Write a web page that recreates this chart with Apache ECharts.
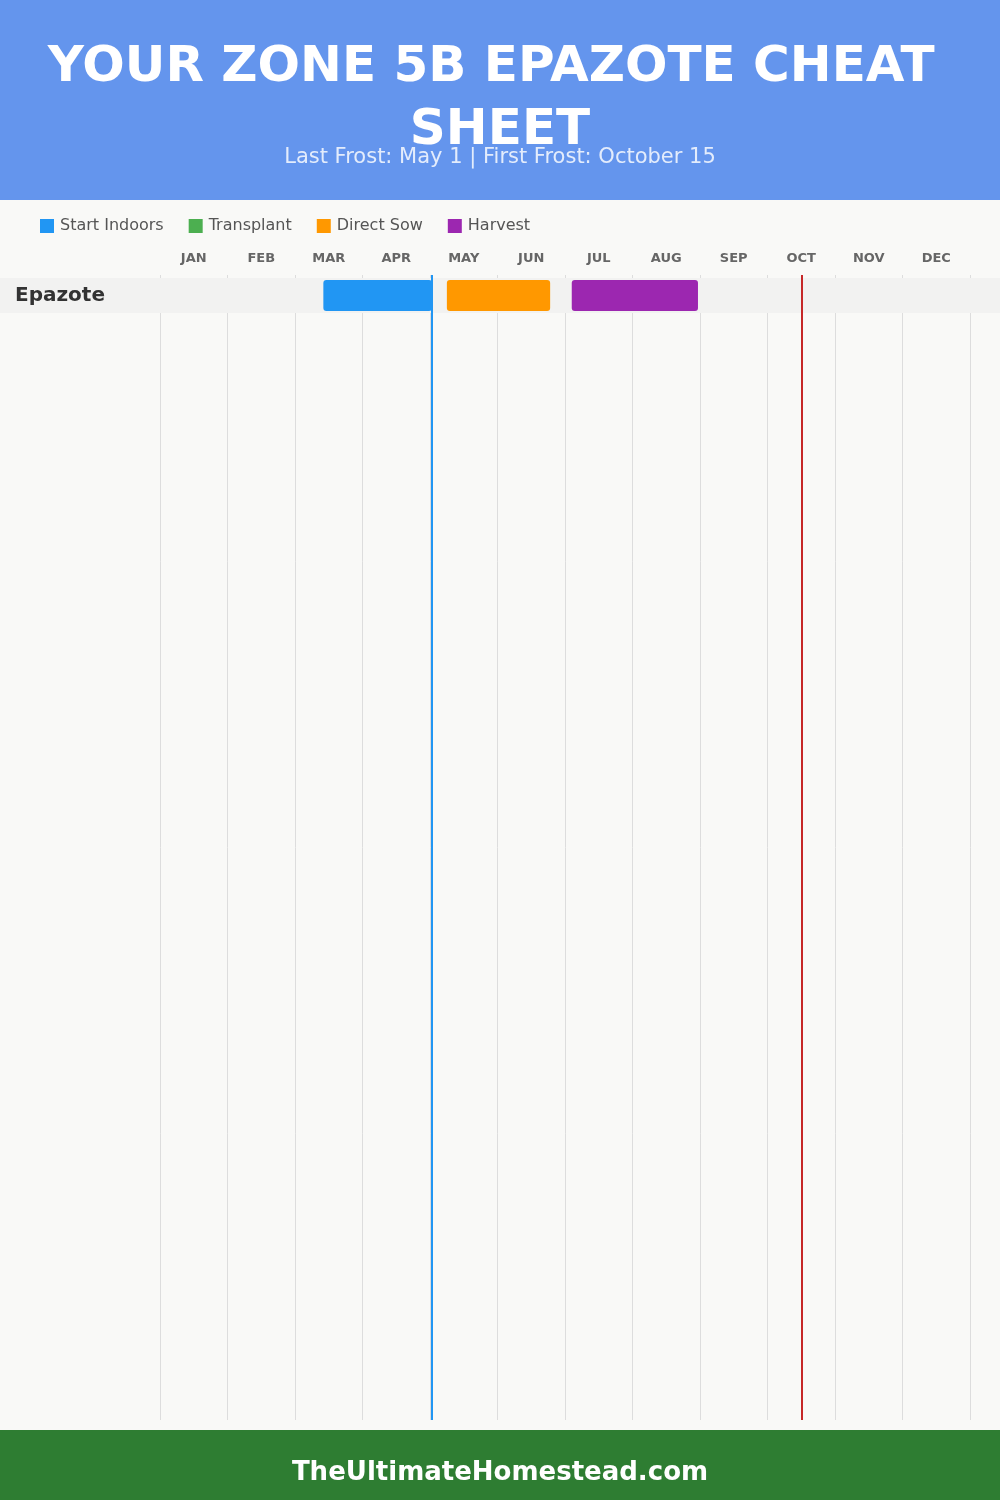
<!DOCTYPE html>
<html><head><meta charset="utf-8">
<script src="https://cdn.jsdelivr.net/npm/echarts@6/dist/echarts.min.js"></script>
<style>html,body{margin:0;padding:0;background:#f9f9f7}#c{width:1000px;height:1500px}</style>
</head><body><div id="c"></div>
<script>
// ---- data ----
const months = ['JAN','FEB','MAR','APR','MAY','JUN','JUL','AUG','SEP','OCT','NOV','DEC'];
const crops = ['Epazote'];
const stageNames = ['Start Indoors','Transplant','Direct Sow','Harvest'];
const stageColors = ['#2196F3','#4CAF50','#FF9800','#9C27B0'];
// [cropIndex, startMonth, endMonth] (month index, fractional)
const startIndoors = [[0, 2.42, 4.03]];
const transplant = [];
const directSow = [[0, 4.25, 5.78]];
const harvest = [[0, 6.10, 7.97]];
const lastFrost = 4.033;   // May 1
const firstFrost = 9.5;    // October 15
const titleText = 'YOUR ZONE 5B EPAZOTE CHEAT SHEET';
const subtitleText = 'Last Frost: May 1 | First Frost: October 15';
const footerText = 'TheUltimateHomestead.com';

const FONT = "'DejaVu Sans', sans-serif";
const BODY = "'DejaVu Sans', sans-serif";

const chart = echarts.init(document.getElementById('c'), null, {renderer:'canvas'});

function renderBar(params, api){
  const s = api.coord([api.value(1), api.value(0)]);
  const e = api.coord([api.value(2), api.value(0)]);
  const h = api.size([0,1])[1] * 31/35;
  return {type:'rect', shape:{x:s[0], y:s[1]-h/2, width:e[0]-s[0], height:h, r:3},
          style:{fill: api.visual('color')}};
}
function renderBand(params, api){
  const c = api.coord([0, api.value(0)]);
  const h = api.size([0,1])[1];
  return {type:'rect', shape:{x:0, y:c[1]-h/2, width:api.getWidth(), height:h},
          style:{fill:'#f2f2f1'}};
}
const stageData = [startIndoors, transplant, directSow, harvest];

const option = {
  backgroundColor:'#f9f9f7',
  animation:false,
  graphic:[
    {type:'rect', z:-10, shape:{x:0,y:0,width:1000,height:200}, style:{fill:'#6495ED'}},
    {type:'rect', z:-10, shape:{x:0,y:1430,width:1000,height:70}, style:{fill:'#2E7D32'}}
  ],
  title:[
    {text:titleText, left:'center', top:32,
     textStyle:{fontFamily:FONT, fontSize:50, fontWeight:900, color:'#fff', width:970, overflow:'break', lineHeight:63}},
    {text:subtitleText, left:'center', top:142,
     textStyle:{fontFamily:BODY, fontSize:21, fontWeight:'normal', color:'rgba(255,255,255,0.82)'}},
    {text:footerText, left:'center', top:1455,
     textStyle:{fontFamily:BODY, fontSize:26, fontWeight:'bold', color:'#fff'}}
  ],
  legend:{
    left:35, top:213, itemWidth:14, itemHeight:14, itemGap:25, icon:'rect',
    data:stageNames,
    textStyle:{fontFamily:BODY, fontSize:16, color:'#555', padding:[0,0,0,1]}
  },
  grid:[
    {left:160, right:30, top:275, bottom:80},
    {left:160, right:30, top:278, height:35}
  ],
  xAxis:[
    {type:'category', gridIndex:0, data:months, position:'top', boundaryGap:true, z:0,
     axisLine:{show:false},
     axisTick:{show:true, length:5, interval:0, lineStyle:{color:'#ddd'}},
     splitLine:{show:true, interval:0, lineStyle:{color:'#ddd', width:1}},
     axisLabel:{interval:0, margin:10, fontFamily:BODY, fontSize:13, fontWeight:'bold', color:'#666'}},
    {type:'value', gridIndex:0, min:0, max:12, show:false},
    {type:'value', gridIndex:1, min:0, max:12, show:false}
  ],
  yAxis:[
    {type:'value', gridIndex:0, min:0, max:1, show:false},
    {type:'category', gridIndex:1, data:crops, inverse:true, z:5,
     axisLine:{show:false}, axisTick:{show:false}, splitLine:{show:false},
     axisLabel:{align:'left', margin:145, fontFamily:BODY, fontSize:20, fontWeight:'bold', color:'#333'}}
  ],
  series:[
    {type:'custom', name:'band', xAxisIndex:2, yAxisIndex:1, z:1, clip:false, silent:true,
     renderItem:renderBand, encode:{x:1, y:0}, data:crops.map((c,i)=>[i,0])},
    ...stageNames.map((n,i)=>({
      type:'custom', name:n, xAxisIndex:2, yAxisIndex:1, z:3, clip:false,
      itemStyle:{color:stageColors[i]}, color:stageColors[i],
      renderItem:renderBar, encode:{x:[1,2], y:0}, data:stageData[i]
    })),
    {type:'line', name:'frost', xAxisIndex:1, yAxisIndex:0, z:10, data:[], showSymbol:false,
     markLine:{silent:true, symbol:'none', label:{show:false},
       data:[
         {xAxis:lastFrost, lineStyle:{color:'#2196F3', width:2, type:'solid'}},
         {xAxis:firstFrost, lineStyle:{color:'#C62828', width:2, type:'solid'}}
       ]}}
  ]
};
chart.setOption(option);
</script>
</body></html>
